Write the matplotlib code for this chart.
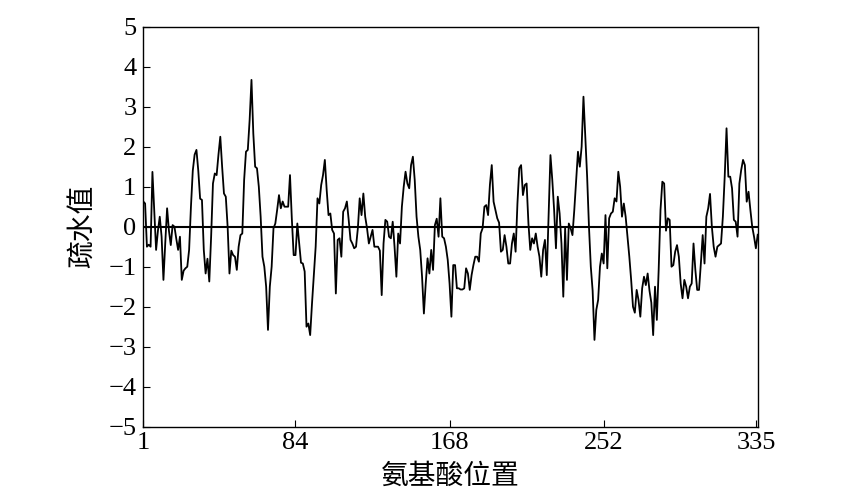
import numpy as np
import matplotlib
matplotlib.use('Agg')
import matplotlib.pyplot as plt

# 疏水值 per amino acid position
hydro = [
    0.63, 0.58, -0.5, -0.45, -0.5, 1.37, 0.4, -0.58, -0.1, 0.25,
    -0.25, -1.33, -0.4, 0.46, -0.1, -0.46, 0.04, 0.0, -0.3, -0.58,
    -0.25, -1.33, -1.1, -1.04, -1.0, -0.58, 0.5, 1.4, 1.8, 1.92,
    1.4, 0.7, 0.67, -0.58, -1.17, -0.8, -1.37, -0.25, 1.08, 1.33,
    1.29, 1.8, 2.25, 1.5, 0.83, 0.75, 0.0, -1.17, -0.6, -0.71,
    -0.75, -1.08, -0.5, -0.21, -0.17, 1.17, 1.875, 1.92, 2.67, 3.67,
    2.33, 1.5, 1.46, 1.0, 0.25, -0.75, -1.0, -1.5, -2.58, -1.5,
    -1.0, -0.04, 0.08, 0.42, 0.79, 0.46, 0.63, 0.5, 0.5, 0.5,
    1.29, 0.2, -0.71, -0.71, 0.08, -0.42, -0.9, -0.92, -1.12, -2.5,
    -2.42, -2.71, -1.92, -1.2, -0.5, 0.71, 0.58, 1.04, 1.29, 1.67,
    0.92, 0.29, 0.33, -0.08, -0.17, -1.67, -0.33, -0.29, -0.75, 0.375,
    0.46, 0.63, 0.17, -0.33, -0.42, -0.54, -0.5, -0.04, 0.71, 0.29,
    0.83, 0.25, -0.04, -0.42, -0.25, -0.08, -0.5, -0.5, -0.5, -0.6,
    -1.71, -0.42, 0.17, 0.125, -0.25, -0.29, 0.125, -0.5, -1.25, -0.17,
    -0.42, 0.5, 1.0, 1.375, 1.08, 0.96, 1.54, 1.75, 1.17, 0.25,
    -0.25, -0.58, -1.25, -2.17, -1.42, -0.79, -1.17, -0.58, -1.08, 0.04,
    0.2, -0.25, 0.71, -0.25, -0.29, -0.5, -0.83, -1.42, -2.25, -0.96,
    -0.96, -1.54, -1.54, -1.57, -1.57, -1.54, -1.04, -1.17, -1.58, -1.21,
    -0.96, -0.75, -0.75, -0.875, -0.17, -0.04, 0.5, 0.54, 0.29, 1.05,
    1.54, 0.625, 0.42, 0.21, 0.1, -0.625, -0.58, -0.21, -0.5, -0.92,
    -0.92, -0.42, -0.17, -0.625, 0.58, 1.46, 1.54, 0.79, 1.04, 1.08,
    0.08, -0.58, -0.29, -0.42, -0.17, -0.5, -0.75, -1.25, -0.58, -0.33,
    -1.21, 0.33, 1.79, 1.17, 0.42, -0.54, 0.75, 0.33, -0.42, -1.75,
    -0.04, -1.33, 0.08, -0.04, -0.21, 0.42, 1.17, 1.875, 1.5, 2.0,
    3.25, 2.25, 1.25, 0.0, -1.0, -1.6, -2.83, -2.08, -1.83, -1.0,
    -0.67, -0.92, 0.29, -1.04, 0.21, 0.33, 0.375, 0.71, 0.63, 1.375,
    1.0, 0.25, 0.58, 0.25, -0.25, -0.75, -1.33, -2.0, -2.15, -1.58,
    -1.83, -2.25, -1.54, -1.25, -1.46, -1.17, -1.6, -1.9, -2.71, -1.5,
    -2.33, -1.08, 0.42, 1.125, 1.08, -0.1, 0.21, 0.17, -1.0, -0.96,
    -0.625, -0.46, -0.75, -1.42, -1.79, -1.33, -1.5, -1.79, -1.5, -1.42,
    -0.42, -1.08, -1.58, -1.58, -0.92, -0.21, -0.92, 0.25, 0.46, 0.82,
    0.0, -0.5, -0.75, -0.5, -0.46, -0.42, 0.25, 1.25, 2.46, 1.25,
    1.25, 0.96, 0.17, 0.125, -0.25, 1.08, 1.42, 1.67, 1.54, 0.625,
    0.875, 0.42, 0.0, -0.25, -0.54, -0.2,
]
pos = np.arange(1, len(hydro) + 1)

xticks = [1, 84, 168, 252, 335]
yticks = [-5, -4, -3, -2, -1, 0, 1, 2, 3, 4, 5]

fig = plt.figure(figsize=(8.63, 5), dpi=100)
ax = fig.add_axes([0.166, 0.1466, 0.712, 0.80])

ax.plot(pos, hydro, color='black', lw=1.3)
ax.axhline(0, color='black', lw=1.5)

ax.set_xlim(1, 336)
ax.set_ylim(-5, 5)
ax.set_xticks(xticks)
ax.set_yticks(yticks)

for lab in ax.get_xticklabels() + ax.get_yticklabels():
    lab.set_fontfamily('Liberation Serif')
    lab.set_fontsize(19)
ax.tick_params(direction='in', length=5, width=0.8, top=False, right=False)
ax.tick_params(axis='x', pad=4)
ax.tick_params(axis='y', pad=5)

for s in ax.spines.values():
    s.set_linewidth(1.0)

ax.set_xlabel('氨基酸位置', fontsize=20, family=['Noto Sans CJK SC', 'DejaVu Sans'],
              labelpad=5)
ax.set_ylabel('疏水值', fontsize=20, family=['Noto Sans CJK SC', 'DejaVu Sans'],
              labelpad=8)

fig.savefig('out.png', dpi=100)
